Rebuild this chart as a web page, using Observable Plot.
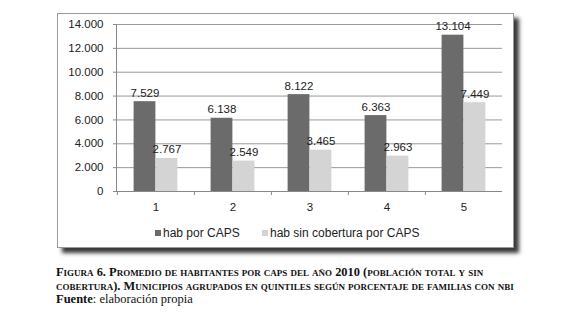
<!DOCTYPE html>
<html><head><meta charset="utf-8">
<script src="https://cdn.jsdelivr.net/npm/d3@7"></script>
<script src="https://cdn.jsdelivr.net/npm/@observablehq/plot@0.6"></script>
<style>
body{margin:0;background:#fff;width:580px;height:314px;position:relative;overflow:hidden;font-family:"Liberation Sans",Arial,sans-serif;}
#box{position:absolute;left:57px;top:13px;width:455px;height:233px;border:1px solid #9a9a9a;background:#fff;box-shadow:5px 5px 4px #3a3a3a;}
#chart{position:absolute;left:0;top:0;}
.leg{position:absolute;top:211px;font-size:12px;color:#222;white-space:nowrap;line-height:16px;}
.sw{display:inline-block;width:6px;height:6px;margin-right:2px;vertical-align:1px;}
#cap{position:absolute;left:56px;top:266px;font-family:"Liberation Serif","Times New Roman",serif;color:#111;white-space:nowrap;}
#cap .t{font-weight:bold;font-variant:small-caps;font-size:12.4px;line-height:13.5px;display:block;}
#cap .f{font-size:12.5px;line-height:13px;display:block;}
</style>
</head><body>
<div id="box"><div id="chart"></div>
<div class="leg" id="leg1" style="left:97px"></div>
<div class="leg" id="leg2" style="left:204px"></div>
</div>
<div id="cap"><span class="t">Figura 6. Promedio de habitantes por caps del año 2010 (población total y sin<br>cobertura). Municipios agrupados en quintiles según porcentaje de familias con nbi</span><span class="f"><b>Fuente</b>: elaboración propia</span></div>
<script>
const quintiles = ["1","2","3","4","5"];
const series = ["hab por CAPS","hab sin cobertura por CAPS"];
const habPorCaps = [7529, 6138, 8122, 6363, 13104];
const habSinCobertura = [2767, 2549, 3465, 2963, 7449];
const yTicks = [0,2000,4000,6000,8000,10000,12000,14000];
const colors = ["#6b6b6b","#d4d4d4"];

const fmt = d3.formatLocale({thousands:".", grouping:[3], decimal:",", currency:["",""]}).format(",");
const dark = quintiles.map((q,i)=>({q, s:series[0], v:habPorCaps[i]}));
const light = quintiles.map((q,i)=>({q, s:series[1], v:habSinCobertura[i]}));

const plot = Plot.plot({
  width:455, height:200,
  marginLeft:58, marginRight:11, marginTop:10, marginBottom:23,
  style:{fontFamily:"'Liberation Sans',Arial,sans-serif", fontSize:"11.5px", color:"#222", background:"transparent"},
  x:{domain:quintiles, padding:0, axis:null, label:null},
  y:{domain:[0,14000], axis:null, label:null},
  color:{domain:series, range:colors},
  marks:[
    Plot.gridY(yTicks.filter(d=>d>0), {stroke:"#999", strokeOpacity:1}),
    Plot.barY(dark, {x:"q", y:"v", fill:"s", insetLeft:16.6, insetRight:38.6}),
    Plot.barY(light, {x:"q", y:"v", fill:"s", insetLeft:38.6, insetRight:16.6}),
    Plot.frame({anchor:"left", stroke:"#888"}),
    Plot.ruleY([0], {stroke:"#888"}),
    Plot.axisY({ticks:yTicks, tickFormat:fmt, tickSize:3, tickPadding:10, stroke:"#888", fontSize:"11.5px", label:null}),
    Plot.axisX({tickSize:4, dx:-38.6, text:null, stroke:"#888", label:null}),
    Plot.axisX({tickSize:0, tickPadding:11, fontSize:"11.5px", label:null}),
    Plot.text(dark, {x:"q", y:"v", text:d=>fmt(d.v), dx:-11, dy:-5, lineAnchor:"bottom", fill:"#222"}),
    Plot.text(light, {x:"q", y:"v", text:d=>fmt(d.v), dx:11, dy:-5, lineAnchor:"bottom", fill:"#222"})
  ]
});
document.getElementById("chart").appendChild(plot);
document.getElementById("leg1").innerHTML = `<span class="sw" style="background:${colors[0]}"></span>${series[0]}`;
document.getElementById("leg2").innerHTML = `<span class="sw" style="background:${colors[1]}"></span>${series[1]}`;
</script>
</body></html>
